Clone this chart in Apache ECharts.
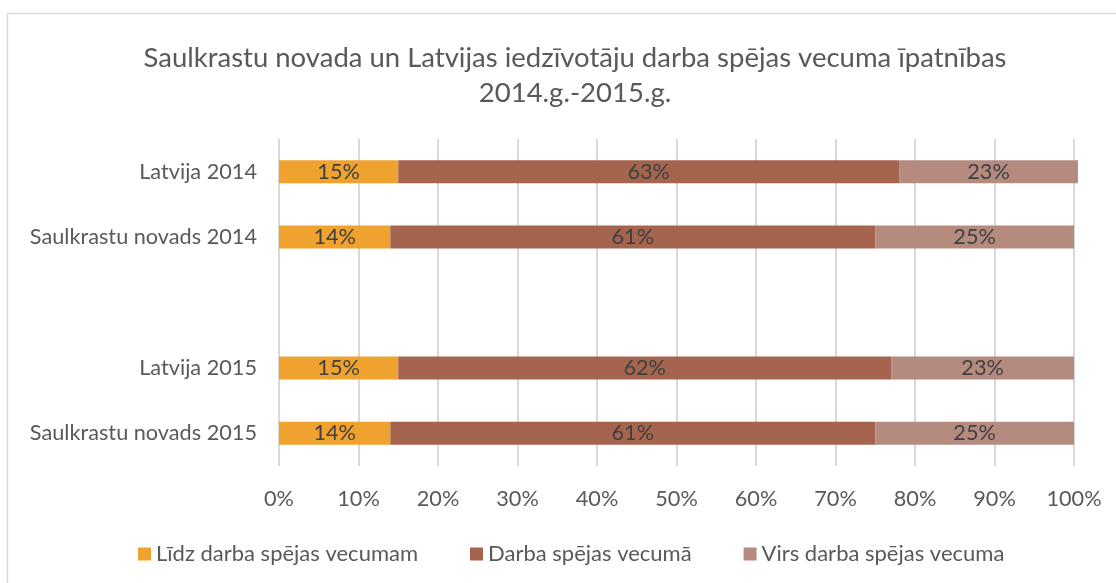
<!DOCTYPE html>
<html>
<head>
<meta charset="utf-8">
<script src="https://cdn.jsdelivr.net/npm/echarts@6/dist/echarts.min.js"></script>
<style>
  html, body { margin: 0; padding: 0; background: #fff; }
  #chart { width: 1116px; height: 583px; }
</style>
</head>
<body>
<div id="chart"></div>
<script>
// kategorijas (tukšā rinda atdala 2014 un 2015)
const categories = ['Latvija 2014', 'Saulkrastu novads 2014', '', 'Latvija 2015', 'Saulkrastu novads 2015'];
const seriesNames = ['Līdz darba spējas vecumam', 'Darba spējas vecumā', 'Virs darba spējas vecuma'];
// vērtības procentos
const below = [15, 14, null, 15, 14];
const working = [63, 61, null, 62, 61];
const above = [22.5, 25, null, 23, 25];
const xTicks = [0, 10, 20, 30, 40, 50, 60, 70, 80, 90, 100];

const colors = ['#F0A22E', '#A5644E', '#B58B80'];
const font = 'Lato';
const fs = 21.7;

const chart = echarts.init(document.getElementById('chart'));

const makeSeries = (name, data, color) => ({
    name: name,
    type: 'bar',
    stack: 'total',
    data: data,
    barWidth: 23,
    clip: false,
    itemStyle: { color: color },
    label: {
        show: true,
        position: 'inside',
        formatter: p => Math.round(p.value) + '%',
        color: '#404040',
        fontSize: fs,
        fontFamily: font
    }
});

const option = {
    animation: false,
    backgroundColor: '#fff',
    title: {
        text: 'Saulkrastu novada un Latvijas iedzīvotāju darba spējas vecuma īpatnības\n2014.g.-2015.g.',
        left: 570,
        top: 36,
        textAlign: 'center',
        textStyle: {
            color: '#595959',
            fontSize: 27.5,
            fontWeight: 'normal',
            fontFamily: font,
            lineHeight: 35
        }
    },
    legend: {
        data: seriesNames,
        left: 133,
        top: 538,
        itemWidth: 13,
        itemHeight: 13,
        itemGap: 52,
        icon: 'rect',
        textStyle: { color: '#595959', fontSize: 22, fontFamily: font }
    },
    grid: { left: 279, right: 42, top: 139, bottom: 117 },
    xAxis: {
        type: 'value',
        min: xTicks[0],
        max: xTicks[xTicks.length - 1],
        interval: xTicks[1] - xTicks[0],
        axisLine: { show: false },
        axisTick: { show: false },
        axisLabel: {
            formatter: v => v + '%',
            color: '#595959',
            fontSize: fs,
            fontFamily: font,
            margin: 22
        },
        splitLine: { lineStyle: { color: '#D9D9D9', width: 2 } }
    },
    yAxis: {
        type: 'category',
        inverse: true,
        data: categories,
        axisLine: { show: false },
        axisTick: { show: false },
        axisLabel: { color: '#595959', fontSize: fs, fontFamily: font, margin: 22 }
    },
    series: [
        makeSeries(seriesNames[0], below, colors[0]),
        makeSeries(seriesNames[1], working, colors[1]),
        makeSeries(seriesNames[2], above, colors[2])
    ],
    graphic: [{
        type: 'rect',
        shape: { x: 7.5, y: 13.5, width: 1130, height: 600 },
        style: { fill: 'none', stroke: '#D9D9D9', lineWidth: 1.5 },
        silent: true
    }]
};

chart.setOption(option);
</script>
</body>
</html>
